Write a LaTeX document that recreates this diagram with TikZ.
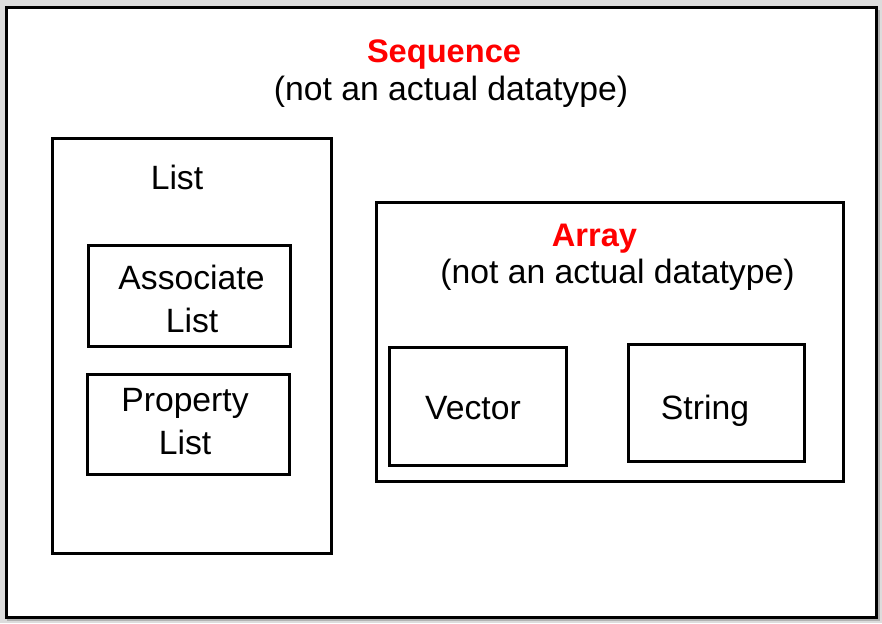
\documentclass[tikz,border=0pt]{standalone}
\usepackage{fontspec}
\setmainfont{Liberation Sans}
\definecolor{seqred}{HTML}{FF0000}
\definecolor{bggray}{HTML}{DCDCDC}
\begin{document}
\begin{tikzpicture}[x=1pt,y=-1pt,
  box/.style={draw=black,line width=3pt,fill=white,inner sep=0pt,outer sep=0pt},
  lbl/.style={anchor=base,inner sep=0pt,font=\fontsize{33.7}{40}\selectfont},
  title/.style={lbl,font=\fontsize{32.6}{40}\selectfont\bfseries,text=seqred}]
\fill[bggray] (0,0) rectangle (882,623);
\useasboundingbox (0,0) rectangle (882,623);
\fill[gray!60] (7,10) rectangle (880,621);
\node[box,minimum width=870pt,minimum height=609pt] (outer) at (441,312.5) {};
\node[title] (seq) at (444,63) {Sequence};
\node[lbl] (seqnote) at (451,101) {(not an actual datatype)};
\node[box,minimum width=279pt,minimum height=415pt] (list) at (191.5,345.5) {};
\node[lbl] (listlbl) at (177,189) {List};
\node[box,minimum width=202pt,minimum height=101pt] (assoc) at (189,295.5) {};
\node[lbl] (assoc1) at (191.5,289) {Associate};
\node[lbl] (assoc2) at (192,332) {List};
\node[box,minimum width=202pt,minimum height=100pt] (prop) at (188,424) {};
\node[lbl] (prop1) at (185,411) {Property};
\node[lbl] (prop2) at (185,454) {List};
\node[box,minimum width=467pt,minimum height=279pt] (array) at (609.5,341.5) {};
\node[title] (arr) at (594.5,246) {Array};
\node[lbl] (arrnote) at (617.5,283) {(not an actual datatype)};
\node[box,minimum width=177pt,minimum height=118pt] (vec) at (477.5,406) {};
\node[lbl] (veclbl) at (473,419) {Vector};
\node[box,minimum width=176pt,minimum height=117pt] (str) at (716,402.5) {};
\node[lbl] (strlbl) at (705,419) {String};
\end{tikzpicture}
\end{document}
